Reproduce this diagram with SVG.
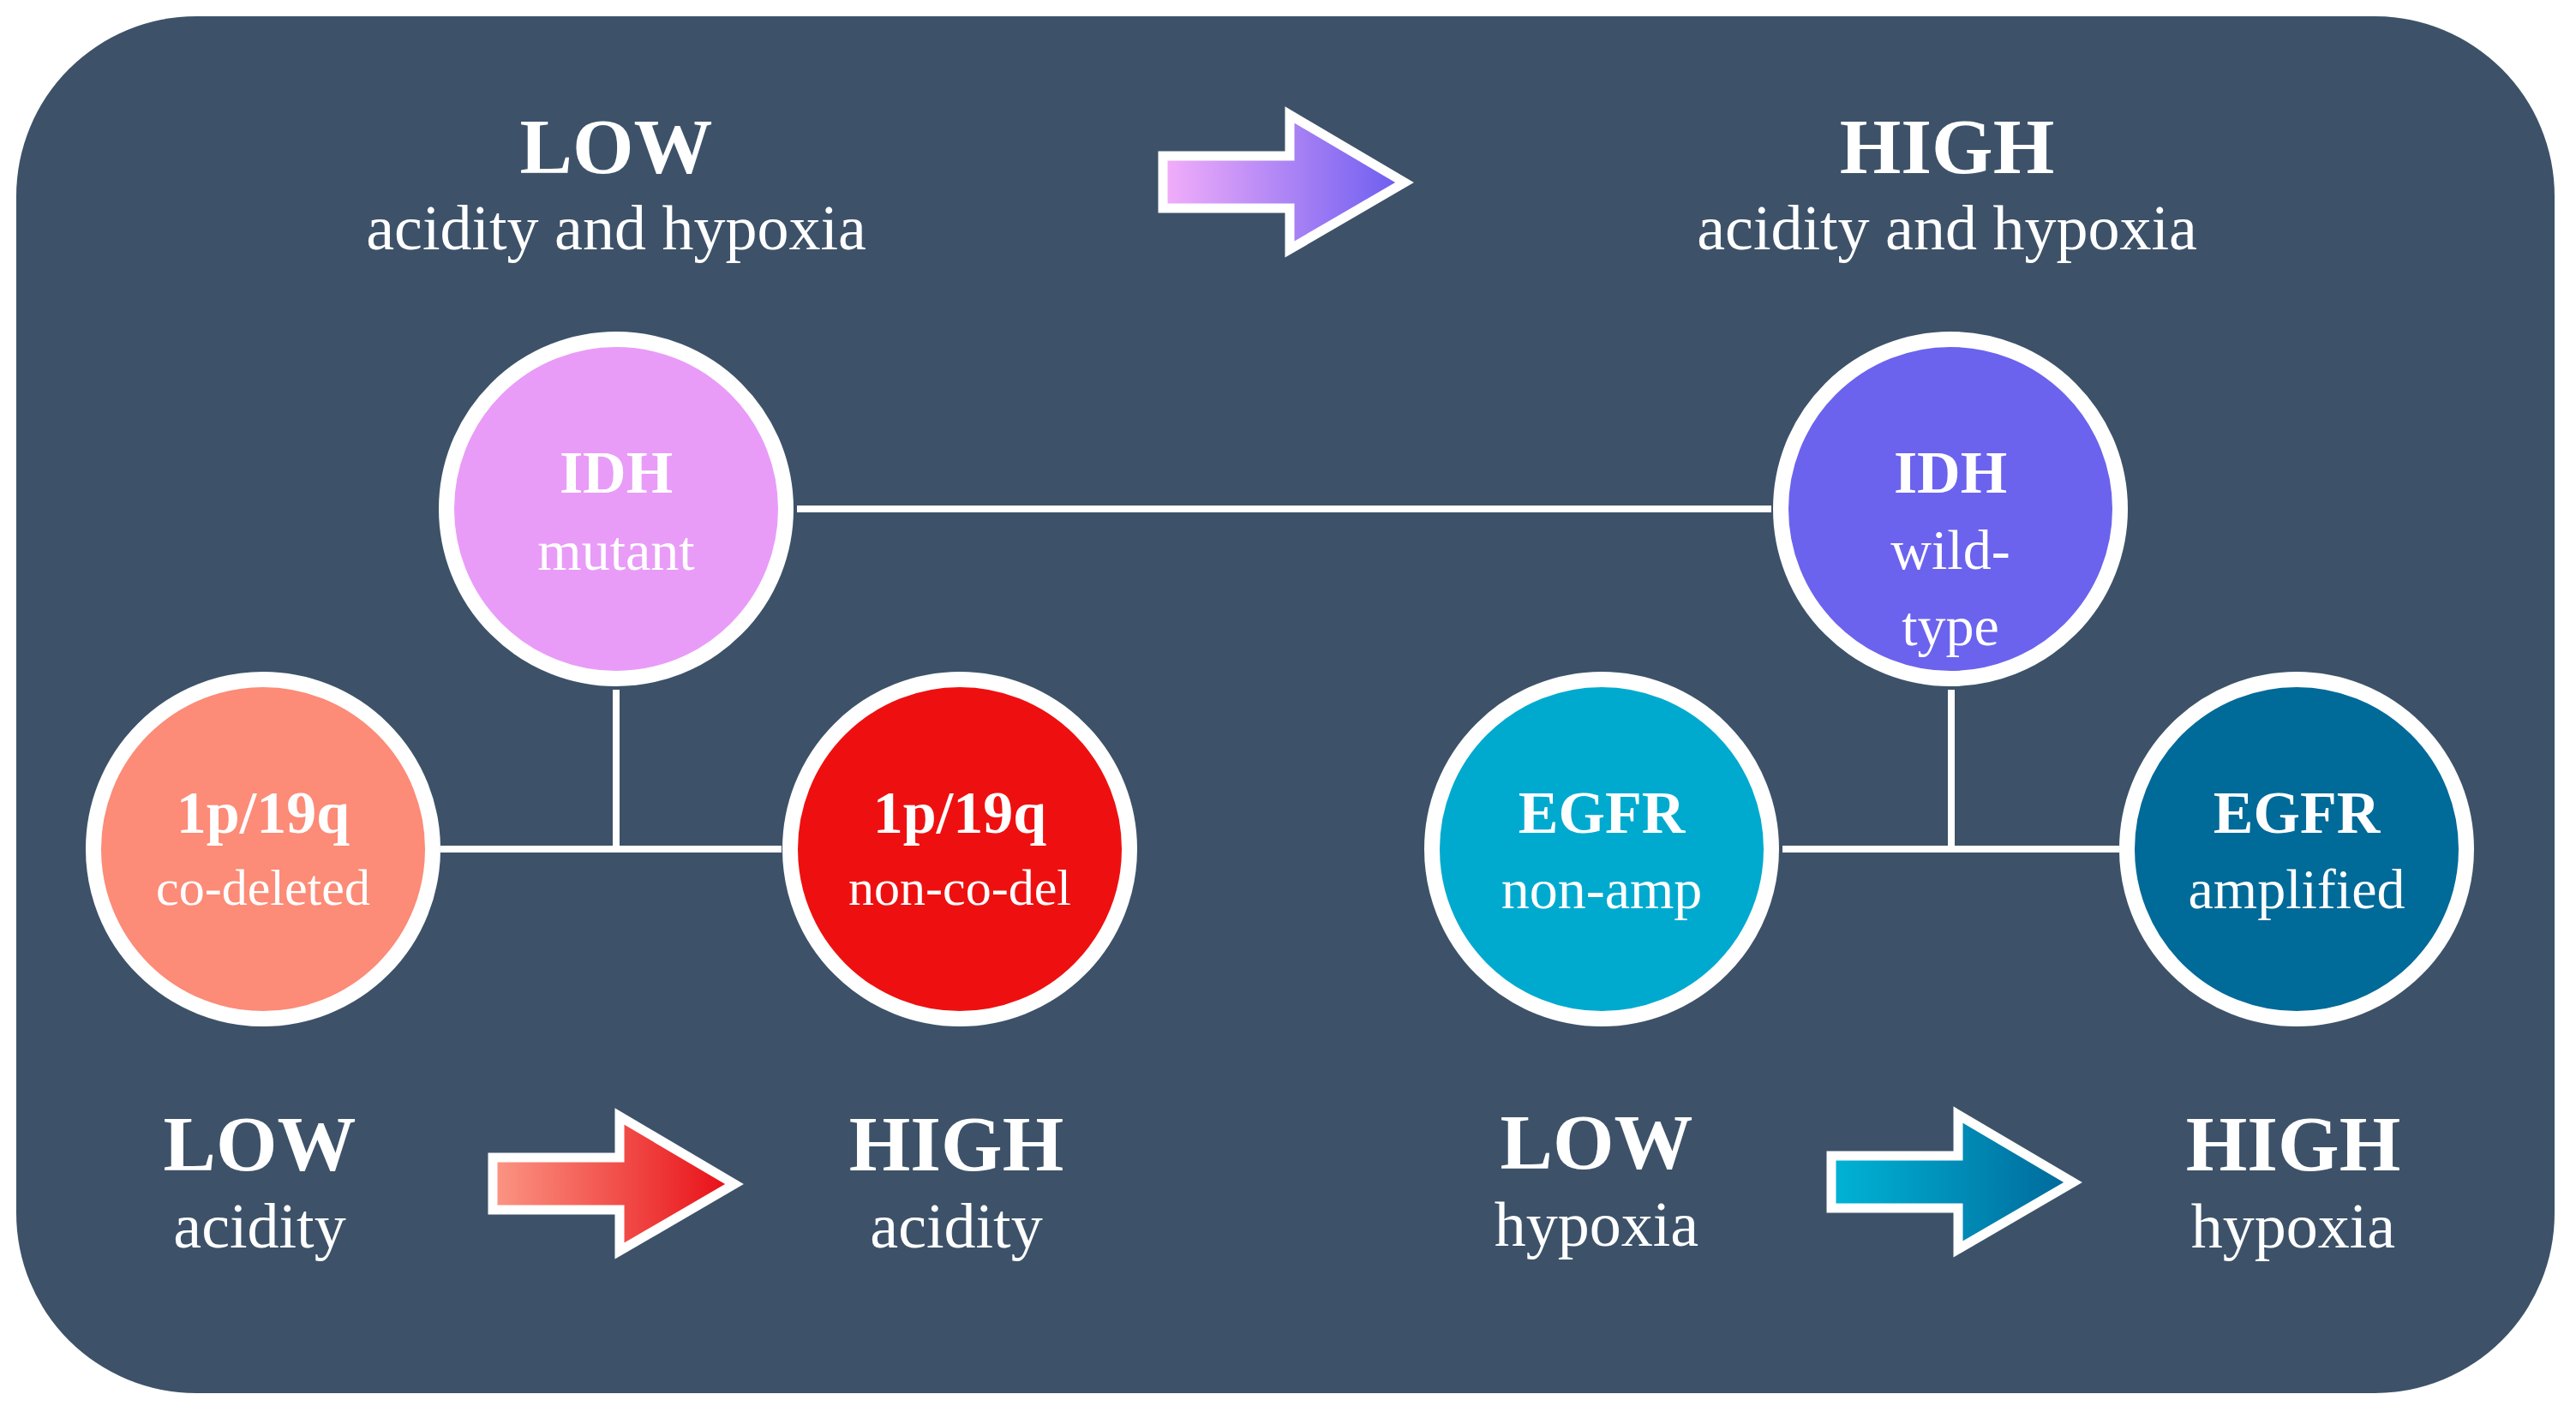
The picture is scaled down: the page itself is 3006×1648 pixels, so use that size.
<svg xmlns="http://www.w3.org/2000/svg" width="3006" height="1648" viewBox="0 0 3006 1648">
<defs>
<linearGradient id="gTop" x1="0" x2="1" y1="0" y2="0"><stop offset="0" stop-color="#f3aefa"/><stop offset="1" stop-color="#6a5cf0"/></linearGradient>
<linearGradient id="gRed" x1="0" x2="1" y1="0" y2="0"><stop offset="0" stop-color="#fb9684"/><stop offset="1" stop-color="#e80c14"/></linearGradient>
<linearGradient id="gBlue" x1="0" x2="1" y1="0" y2="0"><stop offset="0" stop-color="#00b4d6"/><stop offset="1" stop-color="#00689a"/></linearGradient>
<style>
text{font-family:"Liberation Serif","DejaVu Serif",serif;fill:#fff;text-anchor:middle}
.big{font-size:92px;font-weight:bold}
.sub{font-size:74px}
.ct{font-size:70px;font-weight:bold}
.cs{font-size:66px}
.cs2{font-size:60px}
.node circle{stroke:#fff;stroke-width:18}
.arr{stroke:#fff;stroke-width:11;stroke-linejoin:miter}
#connectors line{stroke:#fff;stroke-width:8}
</style>
</defs>
<rect x="19" y="19" width="2962" height="1607" rx="210" fill="#3d5269"/>
<g id="connectors">
<line x1="930" y1="594" x2="2067" y2="594"/>
<line x1="719" y1="805" x2="719" y2="991"/>
<line x1="514" y1="991" x2="912" y2="991"/>
<line x1="2277" y1="805" x2="2277" y2="991"/>
<line x1="2080" y1="991" x2="2473" y2="991"/>
</g>
<g id="arrow-top"><path class="arr" fill="url(#gTop)" d="M1357,182 H1505 V134 L1639,213 L1505,291 V243 H1357 Z"/></g>
<g id="arrow-acid"><path class="arr" fill="url(#gRed)" d="M575,1351 H723 V1303 L857,1382 L723,1460 V1412 H575 Z"/></g>
<g id="arrow-hyp"><path class="arr" fill="url(#gBlue)" d="M2137,1349 H2285 V1301 L2419,1380 L2285,1458 V1410 H2137 Z"/></g>
<g id="label-top-low"><text class="big" x="719" y="202">LOW</text><text class="sub" x="719" y="291">acidity and hypoxia</text></g>
<g id="label-top-high"><text class="big" x="2272" y="202">HIGH</text><text class="sub" x="2272" y="291">acidity and hypoxia</text></g>
<g id="idh-mut" class="node"><circle cx="719" cy="594" r="198" fill="#e89cf7"/><text class="ct" x="719" y="575">IDH</text><text class="cs" x="719" y="665">mutant</text></g>
<g id="idh-wt" class="node"><circle cx="2276" cy="594" r="198" fill="#6b63ee"/><text class="ct" x="2276" y="575">IDH</text><text class="cs" x="2276" y="664">wild-</text><text class="cs" x="2276" y="753">type</text></g>
<g id="codel" class="node"><circle cx="307" cy="991" r="198" fill="#fc8b77"/><text class="ct" x="307" y="972">1p/19q</text><text class="cs2" x="307" y="1056">co-deleted</text></g>
<g id="noncodel" class="node"><circle cx="1120" cy="991" r="198" fill="#ee1010"/><text class="ct" x="1120" y="972">1p/19q</text><text class="cs2" x="1120" y="1056">non-co-del</text></g>
<g id="egfr-non" class="node"><circle cx="1869" cy="991" r="198" fill="#00aacf"/><text class="ct" x="1869" y="972">EGFR</text><text class="cs" x="1869" y="1060">non-amp</text></g>
<g id="egfr-amp" class="node"><circle cx="2680" cy="991" r="198" fill="#006a98"/><text class="ct" x="2680" y="972">EGFR</text><text class="cs" x="2680" y="1060">amplified</text></g>
<g id="label-low-acid"><text class="big" x="303" y="1366">LOW</text><text class="sub" x="303" y="1456">acidity</text></g>
<g id="label-high-acid"><text class="big" x="1116" y="1366">HIGH</text><text class="sub" x="1116" y="1456">acidity</text></g>
<g id="label-low-hyp"><text class="big" x="1863" y="1364">LOW</text><text class="sub" x="1863" y="1454">hypoxia</text></g>
<g id="label-high-hyp"><text class="big" x="2676" y="1366">HIGH</text><text class="sub" x="2676" y="1456">hypoxia</text></g>
</svg>
